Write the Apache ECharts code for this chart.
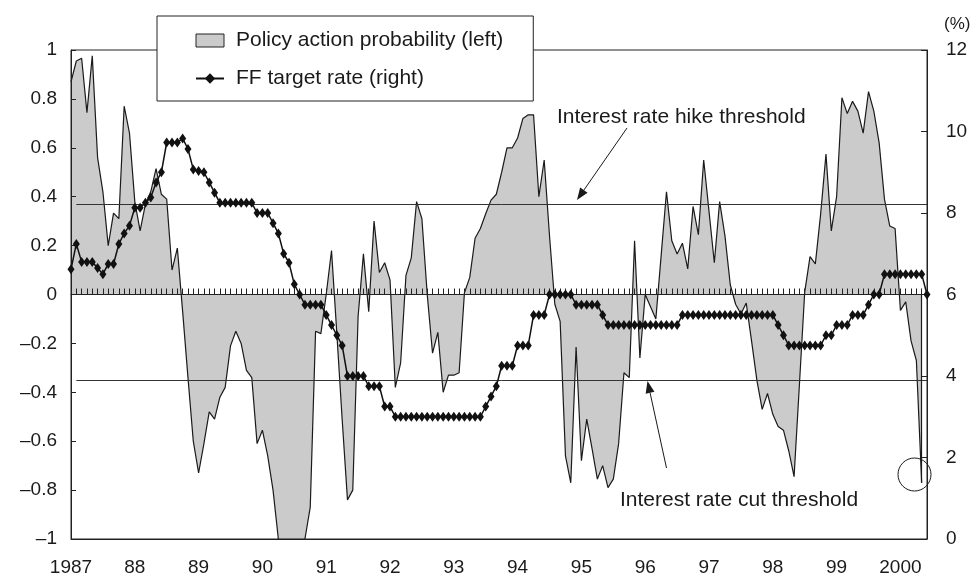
<!DOCTYPE html>
<html>
<head>
<meta charset="utf-8">
<script src="https://cdn.jsdelivr.net/npm/echarts@6/dist/echarts.min.js"></script>
<style>
html,body{margin:0;padding:0;background:#fff;}
#chart{width:971px;height:580px;}
</style>
</head>
<body>
<div id="chart"></div>
<script>
// ---- Data (monthly, Aug 1987 - Jan 2001) ----
const yearLabels = ['1987','88','89','90','91','92','93','94','95','96','97','98','99','2000'];
const leftTickLabels = ['–1','–0.8','–0.6','–0.4','–0.2','0','0.2','0.4','0.6','0.8','1'];
const rightTickLabels = ['0','2','4','6','8','10','12'];

const probability = [
  0.87, 0.955, 0.966, 0.744, 0.976, 0.56, 0.42, 0.20, 0.333, 0.31,
  0.77, 0.66, 0.38, 0.26, 0.37, 0.42, 0.515, 0.41, 0.39, 0.10,
  0.19, -0.07, -0.34, -0.60, -0.73, -0.61, -0.48, -0.51, -0.42, -0.38,
  -0.21, -0.15, -0.20, -0.31, -0.34, -0.61, -0.555, -0.66, -0.80, -1,
  -1, -1, -1, -1, -1, -0.87, -0.15, -0.16, 0.0, 0.18,
  -0.16, -0.51, -0.84, -0.80, -0.09, 0.166, -0.07, 0.30, 0.09, 0.13,
  0.06, -0.38, -0.28, 0.078, 0.15, 0.38, 0.31, 0.0, -0.24, -0.155,
  -0.40, -0.33, -0.33, -0.32, 0.007, 0.07, 0.23, 0.27, 0.33, 0.386,
  0.41, 0.50, 0.60, 0.60, 0.64, 0.72, 0.735, 0.735, 0.40, 0.55,
  0.24, -0.04, -0.11, -0.66, -0.77, -0.215, -0.68, -0.51, -0.63, -0.755,
  -0.70, -0.79, -0.755, -0.61, -0.32, -0.34, 0.22, -0.26, 0.0, -0.05,
  -0.10, 0.16, 0.42, 0.22, 0.166, 0.21, 0.105, 0.36, 0.245, 0.55,
  0.34, 0.13, 0.38, 0.24, 0.04, -0.04, -0.08, -0.035, -0.19, -0.35,
  -0.47, -0.405, -0.49, -0.54, -0.555, -0.64, -0.745, -0.37, 0.01, 0.155,
  0.125, 0.33, 0.574, 0.26, 0.40, 0.805, 0.74, 0.79, 0.75, 0.66,
  0.83, 0.75, 0.62, 0.39, 0.28, 0.27, -0.065, -0.03, -0.19, -0.27,
  -0.77, null
];

const ffRate = [
  6.62, 7.24, 6.8, 6.8, 6.8, 6.65, 6.5, 6.75, 6.75, 7.24,
  7.5, 7.69, 8.13, 8.13, 8.25, 8.38, 8.75, 9.0, 9.73, 9.73,
  9.73, 9.83, 9.57, 9.07, 9.03, 9.0, 8.75, 8.5, 8.25, 8.25,
  8.25, 8.25, 8.25, 8.25, 8.25, 8.0, 8.0, 8.0, 7.75, 7.5,
  7.0, 6.78, 6.25, 6.0, 5.75, 5.75, 5.75, 5.75, 5.5, 5.25,
  5.0, 4.75, 4.0, 4.0, 4.0, 4.0, 3.75, 3.75, 3.75, 3.25,
  3.25, 3.0, 3.0, 3.0, 3.0, 3.0, 3.0, 3.0, 3.0, 3.0,
  3.0, 3.0, 3.0, 3.0, 3.0, 3.0, 3.0, 3.0, 3.25, 3.5,
  3.75, 4.25, 4.25, 4.25, 4.75, 4.75, 4.75, 5.5, 5.5, 5.5,
  6.0, 6.0, 6.0, 6.0, 6.0, 5.75, 5.75, 5.75, 5.75, 5.75,
  5.5, 5.25, 5.25, 5.25, 5.25, 5.25, 5.25, 5.25, 5.25, 5.25,
  5.25, 5.25, 5.25, 5.25, 5.25, 5.5, 5.5, 5.5, 5.5, 5.5,
  5.5, 5.5, 5.5, 5.5, 5.5, 5.5, 5.5, 5.5, 5.5, 5.5,
  5.5, 5.5, 5.5, 5.25, 5.0, 4.75, 4.75, 4.75, 4.75, 4.75,
  4.75, 4.75, 5.0, 5.0, 5.25, 5.25, 5.25, 5.5, 5.5, 5.5,
  5.75, 6.0, 6.0, 6.5, 6.5, 6.5, 6.5, 6.5, 6.5, 6.5,
  6.5, 6.0
];

const hikeThreshold = 0.37;
const cutThreshold = -0.35;

const NAME_PROB = 'Policy action probability (left)';
const NAME_FF = 'FF target rate (right)';

// month categories starting Aug 1987
const categories = [];
for (let i = 0; i < ffRate.length; i++) {
  const m = 7 + i;
  categories.push((1987 + Math.floor(m / 12)) + '-' + String(m % 12 + 1).padStart(2, '0'));
}
let lastProbIdx = probability.length - 1;
while (probability[lastProbIdx] == null) lastProbIdx--;

// ---- Chart ----
const FONT = '"Liberation Sans", Arial, sans-serif';
const INK = '#1a1a1a';
const chart = echarts.init(document.getElementById('chart'), null, { renderer: 'canvas' });

function arrow(x1, y1, x2, y2) {
  const dx = x2 - x1, dy = y2 - y1;
  const len = Math.sqrt(dx * dx + dy * dy);
  const ux = dx / len, uy = dy / len;
  const hl = 12, hw = 4.5;
  const bx = x2 - hl * ux, by = y2 - hl * uy;
  const nx = -uy, ny = ux;
  return [
    { type: 'line', z: 20, shape: { x1: x1, y1: y1, x2: bx, y2: by }, style: { stroke: INK, lineWidth: 1 } },
    { type: 'polygon', z: 20, shape: { points: [[x2, y2], [bx + hw * nx, by + hw * ny], [bx - hw * nx, by - hw * ny]] }, style: { fill: INK } }
  ];
}

const option = {
  animation: false,
  backgroundColor: '#fff',
  grid: {
    left: 71, right: 44, top: 50, bottom: 41,
    show: true, borderColor: '#222', borderWidth: 1, backgroundColor: 'transparent',
    containLabel: false, outerBoundsMode: 'none'
  },
  legend: {
    left: 157, top: 16, orient: 'vertical',
    padding: [14, 30, 12, 38], itemGap: 17, itemWidth: 28, itemHeight: 13,
    backgroundColor: '#fff', borderColor: '#222', borderWidth: 1, borderRadius: 0,
    selectedMode: false, z: 10,
    textStyle: { fontFamily: FONT, fontSize: 21, color: INK, lineHeight: 21, padding: [0, 0, 0, 7] },
    data: [
      { name: NAME_PROB, icon: 'rect', itemStyle: { color: '#cbcbcb', borderColor: '#222', borderWidth: 1 } },
      { name: NAME_FF }
    ]
  },
  xAxis: [
    {
      type: 'category', data: categories, boundaryGap: false, position: 'bottom',
      axisLine: { show: true, onZero: false, lineStyle: { color: '#222', width: 1 } },
      axisTick: { show: false },
      axisLabel: {
        margin: 19, fontSize: 19, fontFamily: FONT, color: INK,
        interval: function (idx) { return idx % 12 === 0; },
        formatter: function (value) { const idx = categories.indexOf(value); return idx % 12 === 0 ? yearLabels[idx / 12] : ''; }
      },
      splitLine: { show: false }
    },
    {
      type: 'category', data: categories, boundaryGap: false, position: 'top', z: 3,
      axisLine: { show: true, onZero: true, onZeroAxisIndex: 0, lineStyle: { color: '#222', width: 1 } },
      axisTick: { show: true, interval: 0, length: 6, inside: false, lineStyle: { color: '#222', width: 1 } },
      axisLabel: { show: false },
      splitLine: { show: false }
    }
  ],
  yAxis: [
    {
      type: 'value', position: 'left', min: -1, max: 1, interval: 0.2, z: 3,
      axisLine: { show: true, onZero: false, lineStyle: { color: '#222', width: 1 } },
      axisTick: { show: true, inside: true, length: 5, lineStyle: { color: '#222' } },
      axisLabel: { margin: 14, fontSize: 19, fontFamily: FONT, color: INK,
        formatter: function (v) { return leftTickLabels[Math.round((v + 1) / 0.2)]; } },
      splitLine: { show: false }
    },
    {
      type: 'value', position: 'right', min: 0, max: 12, interval: 2, z: 3,
      axisLine: { show: true, onZero: false, lineStyle: { color: '#222', width: 1 } },
      axisTick: { show: true, inside: true, length: 6, lineStyle: { color: '#222' } },
      axisLabel: { margin: 19, fontSize: 19, fontFamily: FONT, color: INK,
        formatter: function (v) { return rightTickLabels[Math.round(v / 2)]; } },
      splitLine: { show: false }
    }
  ],
  series: [
    {
      name: NAME_PROB, type: 'line', xAxisIndex: 0, yAxisIndex: 0, data: probability,
      symbol: 'none', showSymbol: false, z: 2,
      lineStyle: { color: '#1a1a1a', width: 1.2 },
      areaStyle: { color: '#cbcbcb', opacity: 1 },
      markLine: {
        silent: true, symbol: 'none', z: 5, animation: false,
        label: { show: false },
        lineStyle: { type: 'solid', color: '#333', width: 1 },
        data: [
          [{ coord: [1, hikeThreshold] }, { coord: [categories.length - 1, hikeThreshold] }],
          [{ coord: [1, cutThreshold] }, { coord: [categories.length - 1, cutThreshold] }],
          [{ coord: [lastProbIdx, 0], lineStyle: { color: '#1a1a1a', width: 1.2 } },
           { coord: [lastProbIdx, probability[lastProbIdx]] }]
        ]
      }
    },
    {
      name: NAME_FF, type: 'line', xAxisIndex: 0, yAxisIndex: 1, data: ffRate, z: 6,
      symbol: 'diamond', symbolSize: [7, 10], showSymbol: true, showAllSymbol: true,
      itemStyle: { color: '#111' },
      lineStyle: { color: '#111', width: 1.5 }
    }
  ],
  graphic: [
    { type: 'text', x: 944, y: 24, z: 20, style: { text: '(%)', font: '17px ' + FONT, fill: INK, align: 'left', verticalAlign: 'middle' } },
    { type: 'text', x: 557, y: 117, z: 20, style: { text: 'Interest rate hike threshold', font: '21px ' + FONT, fill: INK, align: 'left', verticalAlign: 'middle' } },
    { type: 'text', x: 620, y: 500, z: 20, style: { text: 'Interest rate cut threshold', font: '21px ' + FONT, fill: INK, align: 'left', verticalAlign: 'middle' } },
    ...arrow(627, 128, 577, 200),
    ...arrow(666.5, 468, 647.5, 381),
    { type: 'circle', z: 20, shape: { cx: 914.5, cy: 474.5, r: 16.5 }, style: { fill: 'none', stroke: INK, lineWidth: 1 } }
  ]
};
chart.setOption(option);
</script>
</body>
</html>
